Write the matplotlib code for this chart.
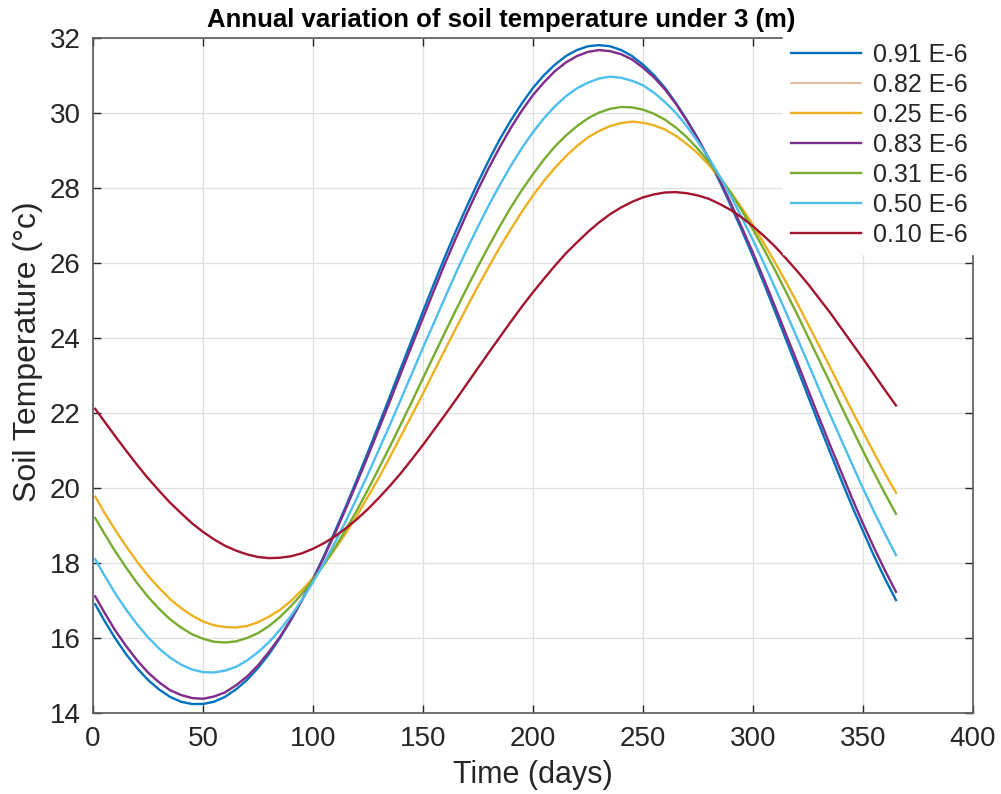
import matplotlib
matplotlib.use("Agg")
import matplotlib.pyplot as plt

plt.rcParams['font.family'] = ['Liberation Sans', 'DejaVu Sans']

# ---------------- data ----------------
days = [1, 5, 10, 15, 20, 25, 30, 35, 40, 45, 50, 55, 60, 65, 70, 75, 80, 85,
        90, 95, 100, 105, 110, 115, 120, 125, 130, 135, 140, 145, 150, 155,
        160, 165, 170, 175, 180, 185, 190, 195, 200, 205, 210, 215, 220, 225,
        230, 235, 240, 245, 250, 255, 260, 265, 270, 275, 280, 285, 290, 295,
        300, 305, 310, 315, 320, 325, 330, 335, 340, 345, 350, 355, 360, 365]

t_091 = [16.90, 16.48, 16.00, 15.57, 15.20, 14.88, 14.63, 14.43, 14.30, 14.24,
         14.24, 14.30, 14.43, 14.63, 14.88, 15.20, 15.57, 16.00, 16.48, 17.01,
         17.58, 18.19, 18.85, 19.52, 20.23, 20.96, 21.70, 22.45, 23.21, 23.96,
         24.71, 25.45, 26.17, 26.86, 27.52, 28.15, 28.75, 29.31, 29.81, 30.26,
         30.67, 31.01, 31.29, 31.52, 31.68, 31.78, 31.81, 31.78, 31.68, 31.52,
         31.29, 31.01, 30.67, 30.26, 29.81, 29.31, 28.75, 28.15, 27.52, 26.86,
         26.17, 25.45, 24.71, 23.96, 23.21, 22.45, 21.70, 20.96, 20.23, 19.52,
         18.85, 18.19, 17.58, 17.01]

t_082 = [17.10, 16.69, 16.20, 15.78, 15.40, 15.07, 14.81, 14.60, 14.47, 14.39,
         14.37, 14.43, 14.54, 14.73, 14.96, 15.26, 15.62, 16.02, 16.49, 17.00,
         17.55, 18.15, 18.78, 19.45, 20.14, 20.85, 21.58, 22.31, 23.06, 23.80,
         24.53, 25.26, 25.98, 26.66, 27.32, 27.95, 28.54, 29.09, 29.60, 30.06,
         30.47, 30.81, 31.11, 31.34, 31.51, 31.62, 31.67, 31.64, 31.56, 31.42,
         31.20, 30.94, 30.62, 30.23, 29.78, 29.30, 28.77, 28.19, 27.57, 26.93,
         26.26, 25.55, 24.83, 24.09, 23.36, 22.61, 21.87, 21.14, 20.43, 19.72,
         19.04, 18.40, 17.79, 17.22]

t_025 = [19.77, 19.36, 18.89, 18.45, 18.04, 17.66, 17.34, 17.04, 16.80, 16.60,
         16.44, 16.34, 16.29, 16.28, 16.32, 16.42, 16.57, 16.75, 16.99, 17.28,
         17.60, 17.96, 18.37, 18.80, 19.27, 19.77, 20.28, 20.83, 21.39, 21.95,
         22.52, 23.11, 23.69, 24.26, 24.83, 25.38, 25.91, 26.43, 26.91, 27.37,
         27.80, 28.19, 28.54, 28.85, 29.12, 29.35, 29.52, 29.65, 29.73, 29.77,
         29.74, 29.67, 29.56, 29.39, 29.17, 28.92, 28.61, 28.26, 27.88, 27.46,
         27.01, 26.52, 26.02, 25.49, 24.94, 24.37, 23.80, 23.23, 22.64, 22.06,
         21.50, 20.94, 20.39, 19.87]

t_083 = [17.11, 16.70, 16.21, 15.79, 15.41, 15.08, 14.82, 14.61, 14.48, 14.40,
         14.38, 14.44, 14.55, 14.74, 14.97, 15.27, 15.63, 16.03, 16.50, 17.01,
         17.56, 18.16, 18.79, 19.46, 20.15, 20.86, 21.59, 22.32, 23.07, 23.81,
         24.54, 25.27, 25.99, 26.67, 27.33, 27.96, 28.55, 29.10, 29.61, 30.07,
         30.48, 30.82, 31.12, 31.35, 31.52, 31.63, 31.68, 31.65, 31.57, 31.43,
         31.21, 30.95, 30.63, 30.24, 29.79, 29.31, 28.78, 28.20, 27.58, 26.94,
         26.27, 25.56, 24.84, 24.10, 23.37, 22.62, 21.88, 21.15, 20.44, 19.73,
         19.05, 18.41, 17.80, 17.23]

t_031 = [19.20, 18.80, 18.32, 17.88, 17.47, 17.10, 16.78, 16.50, 16.28, 16.10,
         15.98, 15.90, 15.88, 15.91, 16.00, 16.13, 16.32, 16.56, 16.85, 17.18,
         17.55, 17.96, 18.41, 18.90, 19.41, 19.96, 20.53, 21.11, 21.71, 22.31,
         22.93, 23.54, 24.15, 24.75, 25.34, 25.91, 26.46, 26.99, 27.49, 27.95,
         28.37, 28.76, 29.11, 29.40, 29.65, 29.86, 30.01, 30.11, 30.16, 30.15,
         30.09, 29.98, 29.82, 29.61, 29.35, 29.04, 28.69, 28.29, 27.86, 27.39,
         26.89, 26.36, 25.81, 25.23, 24.64, 24.03, 23.42, 22.81, 22.19, 21.59,
         20.99, 20.41, 19.85, 19.31]

t_050 = [18.10, 17.69, 17.20, 16.76, 16.37, 16.02, 15.72, 15.48, 15.29, 15.16,
         15.09, 15.08, 15.13, 15.23, 15.40, 15.62, 15.89, 16.22, 16.59, 17.02,
         17.49, 18.00, 18.55, 19.13, 19.74, 20.37, 21.03, 21.69, 22.37, 23.06,
         23.74, 24.41, 25.08, 25.74, 26.37, 26.97, 27.55, 28.09, 28.60, 29.07,
         29.49, 29.86, 30.18, 30.45, 30.66, 30.81, 30.92, 30.97, 30.94, 30.86,
         30.74, 30.54, 30.29, 30.00, 29.64, 29.23, 28.79, 28.30, 27.77, 27.20,
         26.61, 25.99, 25.34, 24.68, 24.01, 23.33, 22.64, 21.96, 21.30, 20.64,
         19.99, 19.37, 18.78, 18.21]

t_010 = [22.11, 21.79, 21.39, 21.00, 20.62, 20.26, 19.93, 19.61, 19.33, 19.06,
         18.83, 18.63, 18.46, 18.33, 18.23, 18.16, 18.13, 18.14, 18.18, 18.26,
         18.38, 18.53, 18.71, 18.93, 19.17, 19.44, 19.74, 20.06, 20.40, 20.77,
         21.15, 21.55, 21.95, 22.36, 22.78, 23.20, 23.62, 24.03, 24.44, 24.84,
         25.22, 25.58, 25.93, 26.26, 26.55, 26.83, 27.08, 27.30, 27.48, 27.63,
         27.75, 27.83, 27.88, 27.89, 27.86, 27.80, 27.71, 27.57, 27.41, 27.21,
         26.98, 26.72, 26.44, 26.12, 25.79, 25.44, 25.06, 24.68, 24.27, 23.86,
         23.45, 23.03, 22.61, 22.20]

series_labels = ['0.91 E-6', '0.82 E-6', '0.25 E-6', '0.83 E-6',
                 '0.31 E-6', '0.50 E-6', '0.10 E-6']
series_values = [t_091, t_082, t_025, t_083, t_031, t_050, t_010]

x_ticks = [0, 50, 100, 150, 200, 250, 300, 350, 400]
y_ticks = [14, 16, 18, 20, 22, 24, 26, 28, 30, 32]

title_text = 'Annual variation of soil temperature under 3 (m)'
x_label = 'Time (days)'
y_label = 'Soil Temperature (\u00b0c)'

# ---------------- styling ----------------
colors = ['#0072BD', '#E3A482', '#EDB120', '#7E2F8E', '#77AC30', '#4DBEEE', '#A2142F']
widths = [1.7, 1.1, 1.7, 1.7, 1.7, 1.7, 1.7]

W, H = 1001, 794
fig = plt.figure(figsize=(W / 100, H / 100), dpi=100)
L, R, T, B = 93, 973, 38, 713
ax = fig.add_axes([L / W, 1 - B / H, (R - L) / W, (B - T) / H])

for vals, lab, col, lw in zip(series_values, series_labels, colors, widths):
    ax.plot(days, vals, color=col, lw=lw, label=lab)

ax.set_xlim(0, 400)
ax.set_ylim(14, 32)
ax.set_xticks(x_ticks)
ax.set_yticks(y_ticks)
ax.grid(True, color='#e0e0e0', lw=0.9)
ax.set_axisbelow(True)
ax.tick_params(direction='in', length=6, width=1.0, top=True, right=True,
               labelsize=20, colors='#262626', pad=9)
for s in ax.spines.values():
    s.set_color('#5a5a5a')
    s.set_linewidth(1.2)

ax.set_xlabel(x_label, fontsize=22, color='#262626', va='center')
ax.xaxis.set_label_coords(0.5, -(775 - B) / (B - T))
ax.set_ylabel(y_label, fontsize=23, color='#262626', va='center')
ax.yaxis.set_label_coords((28 - L) / (R - L), (B - 352) / (B - T))
fig.text(501 / W, 1 - 27 / H, title_text, fontsize=18.5, fontweight='bold',
         color='black', ha='center', va='baseline')

leg = ax.legend(loc='upper left', bbox_to_anchor=(783 / W, 1 - 35 / H),
                bbox_transform=fig.transFigure, frameon=True, fancybox=False,
                framealpha=1, edgecolor='white', facecolor='white',
                fontsize=18, handlelength=2.8, handletextpad=0.5,
                labelspacing=0.24, borderpad=0.3, borderaxespad=0)
for txt in leg.get_texts():
    txt.set_color('#262626')
leg.set_zorder(10)

fig.savefig('out.png', dpi=100)
